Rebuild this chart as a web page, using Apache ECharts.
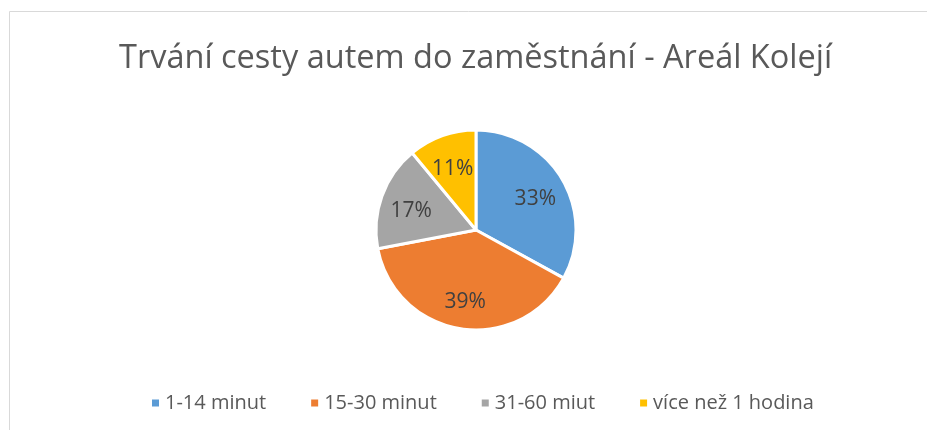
<!DOCTYPE html>
<html>
<head>
<meta charset="utf-8">
<script src="https://cdn.jsdelivr.net/npm/echarts@6/dist/echarts.min.js"></script>
<style>
    html, body { margin: 0; padding: 0; background: #fff; }
    #chart { width: 927px; height: 430px; }
</style>
</head>
<body>
<div id="chart"></div>
<script>
    const titleText = 'Trvání cesty autem do zaměstnání - Areál Kolejí';
    const categories = ['1-14 minut', '15-30 minut', '31-60 miut', 'více než 1 hodina'];
    const values = [33, 39, 17, 11];
    const colors = ['#5B9BD5', '#ED7D31', '#A5A5A5', '#FFC000'];

    const seriesData = categories.map(function (name, i) {
        return { name: name, value: values[i] };
    });

    const pieCenter = [476, 230];

    const chart = echarts.init(document.getElementById('chart'));
    chart.setOption({
        animation: false,
        color: colors,
        title: {
            text: titleText,
            left: 114,
            top: 37,
            textStyle: {
                fontFamily: 'Open Sans',
                fontWeight: 'normal',
                fontSize: 32.5,
                color: '#595959'
            }
        },
        graphic: [{
            type: 'rect',
            shape: { x: 9.5, y: 11.5, width: 1000, height: 500 },
            style: { fill: 'none', stroke: '#d9d9d9', lineWidth: 1 },
            silent: true
        }],
        legend: {
            bottom: 12,
            left: 145,
            icon: 'rect',
            itemWidth: 9,
            itemHeight: 9,
            itemGap: 43,
            textStyle: {
                fontFamily: 'Open Sans',
                fontSize: 20,
                color: '#595959'
            },
            data: categories
        },
        series: [{
            type: 'pie',
            center: pieCenter,
            radius: [0, 100],
            startAngle: 90,
            clockwise: true,
            itemStyle: { borderColor: '#fff', borderWidth: 3 },
            label: {
                show: true,
                position: 'inside',
                formatter: '{c}%',
                fontFamily: 'Open Sans',
                fontSize: 21,
                color: '#404040'
            },
            labelLine: { show: false },
            // push the inside labels a bit outwards, like Excel's best fit
            labelLayout: function (params) {
                const r = params.labelRect;
                const cx = r.x + r.width / 2;
                const cy = r.y + r.height / 2;
                return {
                    x: pieCenter[0] + (cx - pieCenter[0]) * 1.3,
                    y: pieCenter[1] + (cy - pieCenter[1]) * 1.3 + 4
                };
            },
            data: seriesData
        }]
    });
</script>
</body>
</html>
